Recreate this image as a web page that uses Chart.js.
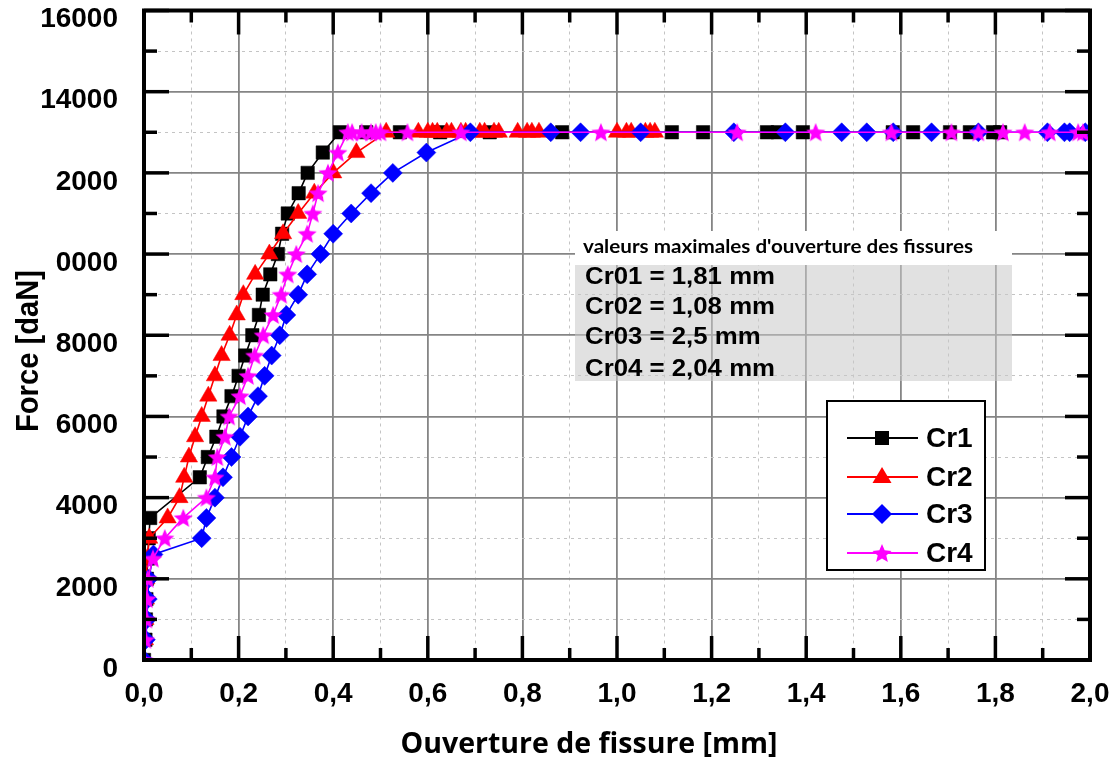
<!DOCTYPE html>
<html>
<head>
<meta charset="utf-8">
<script src="https://cdn.jsdelivr.net/npm/chart.js@4.4.1/dist/chart.umd.min.js"></script>
<style>
  html, body { margin: 0; padding: 0; background: #fff; }
  #c { display: block; }
</style>
</head>
<body>
<canvas id="c" width="1118" height="760"></canvas>
<script>
// crack opening [mm] vs force [daN]
const cr1X = [0, 0.003, 0.004, 0.005, 0.006, 0.008, 0.01, 0.013, 0.118, 0.135, 0.153, 0.168, 0.185, 0.2, 0.214, 0.229, 0.243, 0.251, 0.267, 0.283, 0.292, 0.304, 0.327, 0.346, 0.378, 0.414,
  0.47, 0.541, 0.626, 0.731, 0.884, 1.116, 1.182, 1.317, 1.34, 1.393, 1.583, 1.626, 1.704, 1.746, 1.795, 1.81];
const cr1Y = [0, 500, 1000, 1500, 2000, 2500, 3000, 3500, 4500, 5000, 5500, 6000, 6500, 7000, 7500, 8000, 8500, 9000, 9500, 10000, 10500, 11000, 11500, 12000, 12500, 13000,
  13000, 13000, 13000, 13000, 13000, 13000, 13000, 13000, 13000, 13000, 13000, 13000, 13000, 13000, 13000, 13000];

const cr2X = [0, 0.002, 0.003, 0.004, 0.005, 0.007, 0.011, 0.05, 0.075, 0.085, 0.095, 0.108, 0.122, 0.136, 0.15, 0.164, 0.181, 0.196, 0.21, 0.235, 0.265, 0.294, 0.326, 0.36, 0.4, 0.449, 0.512,
  0.58, 0.6, 0.61, 0.62, 0.64, 0.65, 0.67, 0.68, 0.71, 0.72, 0.74, 0.75, 0.79, 0.81, 0.82, 0.835, 1.0, 1.02, 1.03, 1.06, 1.07, 1.08];
const cr2Y = [0, 500, 1000, 1500, 2000, 2500, 3000, 3500, 4000, 4500, 5000, 5500, 6000, 6500, 7000, 7500, 8000, 8500, 9000, 9500, 10000, 10500, 11000, 11500, 12000, 12500, 13000,
  13000, 13000, 13000, 13000, 13000, 13000, 13000, 13000, 13000, 13000, 13000, 13000, 13000, 13000, 13000, 13000, 13000, 13000, 13000, 13000, 13000, 13000];

const cr3X = [0, 0.004, 0.006, 0.008, 0.01, 0.02, 0.122, 0.132, 0.15, 0.167, 0.185, 0.203, 0.22, 0.241, 0.255, 0.27, 0.287, 0.301, 0.326, 0.345, 0.373, 0.4, 0.438, 0.48, 0.526, 0.597, 0.69,
  0.86, 0.923, 1.05, 1.247, 1.356, 1.475, 1.528, 1.584, 1.665, 1.764, 1.91, 1.946, 1.957, 1.99, 2.5];
const cr3Y = [0, 500, 1000, 1500, 2000, 2600, 3000, 3500, 4000, 4500, 5000, 5500, 6000, 6500, 7000, 7500, 8000, 8500, 9000, 9500, 10000, 10500, 11000, 11500, 12000, 12500, 13000,
  13000, 13000, 13000, 13000, 13000, 13000, 13000, 13000, 13000, 13000, 13000, 13000, 13000, 13000, 13000];

const cr4X = [0, 0.003, 0.005, 0.006, 0.008, 0.019, 0.044, 0.083, 0.132, 0.15, 0.155, 0.171, 0.18, 0.203, 0.22, 0.234, 0.252, 0.273, 0.29, 0.304, 0.322, 0.345, 0.357, 0.368, 0.389, 0.41, 0.431,
  0.44, 0.46, 0.48, 0.49, 0.5, 0.557, 0.67, 0.966, 1.254, 1.42, 1.58, 1.707, 1.764, 1.816, 1.862, 1.915, 1.975, 1.985, 2.04];
const cr4Y = [0, 500, 1000, 1500, 2000, 2500, 3000, 3500, 4000, 4500, 5000, 5500, 6000, 6500, 7000, 7500, 8000, 8500, 9000, 9500, 10000, 10500, 11000, 11500, 12000, 12500, 13000,
  13000, 13000, 13000, 13000, 13000, 13000, 13000, 13000, 13000, 13000, 13000, 13000, 13000, 13000, 13000, 13000, 13000, 13000, 13000];

const seriesNames = ['Cr1', 'Cr2', 'Cr3', 'Cr4'];
const yTickLabels = ['0', '2000', '4000', '6000', '8000', '0000', '2000', '14000', '16000'];
const xTickLabels = ['0,0', '0,2', '0,4', '0,6', '0,8', '1,0', '1,2', '1,4', '1,6', '1,8', '2,0'];
const boxTitle = "valeurs maximales d'ouverture des fissures";
const boxLines = ['Cr01 = 1,81 mm', 'Cr02 = 1,08 mm', 'Cr03 = 2,5 mm', 'Cr04 = 2,04 mm'];
const xTitle = 'Ouverture de fissure [mm]';
const yTitle = 'Force [daN]';

const BOLD = '"Liberation Sans", Arial, sans-serif';

function starPath(ctx, cx, cy, r) {
  ctx.beginPath();
  for (let i = 0; i < 10; i++) {
    const rad = i % 2 === 0 ? r : r * 0.45;
    const a = -Math.PI / 2 + i * Math.PI / 5;
    const px = cx + rad * Math.cos(a), py = cy + rad * Math.sin(a);
    if (i === 0) ctx.moveTo(px, py); else ctx.lineTo(px, py);
  }
  ctx.closePath();
}

function makeStar(color, r) {
  const cv = document.createElement('canvas');
  cv.width = cv.height = Math.ceil(r * 2 + 2);
  const c = cv.getContext('2d');
  c.fillStyle = color;
  starPath(c, cv.width / 2, cv.height / 2 + r * 0.08, r);
  c.fill();
  return cv;
}

const toPoints = (xs, ys) => xs.map((x, i) => ({ x, y: ys[i] }));

function fitText(ctx, text, x, y, font, width) {
  ctx.font = font;
  const w = ctx.measureText(text).width;
  ctx.save();
  ctx.translate(x, y);
  ctx.scale(width / w, 1);
  ctx.fillText(text, 0, 0);
  ctx.restore();
}

const decor = {
  id: 'decor',
  afterDatasetsDraw(chart) {
    const { ctx, chartArea: a, scales: { x, y } } = chart;
    ctx.save();
    ctx.strokeStyle = '#000';
    ctx.lineWidth = 3.5;
    const seg = (x1, y1, x2, y2) => { ctx.beginPath(); ctx.moveTo(x1, y1); ctx.lineTo(x2, y2); ctx.stroke(); };
    y.ticks.forEach((t, i) => {
      const py = y.getPixelForValue(t.value);
      const len = i % 2 === 0 ? 25 : 13;
      seg(a.left, py, a.left + len, py);
      seg(a.right, py, a.right - len, py);
    });
    x.ticks.forEach((t, i) => {
      const px = x.getPixelForValue(t.value);
      const len = i % 2 === 0 ? 24 : 12;
      seg(px, a.top, px, a.top + len);
      seg(px, a.bottom, px, a.bottom - len);
    });
    ctx.lineWidth = 4;
    ctx.strokeRect(a.left, a.top, a.width, a.height);

    // info box
    ctx.fillStyle = '#ffffff';
    ctx.fillRect(575, 231, 437, 34);
    ctx.fillStyle = 'rgba(200,200,200,0.55)';
    ctx.fillRect(575, 265, 437, 116);
    ctx.fillStyle = '#000';
    ctx.textBaseline = 'alphabetic';
    ctx.textAlign = 'left';
    fitText(ctx, boxTitle, 583, 253, 'bold 18px Lato, "Open Sans", sans-serif', 390);
    ctx.font = 'bold 23px ' + BOLD;
    const k = 190 / ctx.measureText(boxLines[0]).width;
    [284, 314, 344, 376].forEach((by, i) => {
      ctx.save();
      ctx.translate(585, by);
      ctx.scale(k, 1);
      ctx.fillText(boxLines[i], 0, 0);
      ctx.restore();
    });

    // legend
    ctx.fillStyle = '#fff';
    ctx.fillRect(827, 401, 158, 169);
    ctx.lineWidth = 2;
    ctx.strokeRect(827, 401, 158, 169);
    const ly = [438, 477, 514, 553];
    chart.data.datasets.forEach((ds, i) => {
      const yy = ly[i];
      ctx.strokeStyle = ds.borderColor;
      ctx.fillStyle = ds.borderColor;
      ctx.lineWidth = 2;
      seg(847, yy, 918, yy);
      const cx = 882;
      if (i === 0) {
        ctx.fillRect(cx - 7, yy - 7, 14, 14);
      } else if (i === 1) {
        ctx.beginPath(); ctx.moveTo(cx, yy - 10); ctx.lineTo(cx + 9.5, yy + 6); ctx.lineTo(cx - 9.5, yy + 6); ctx.closePath(); ctx.fill();
      } else if (i === 2) {
        ctx.beginPath(); ctx.moveTo(cx, yy - 10); ctx.lineTo(cx + 10, yy); ctx.lineTo(cx, yy + 10); ctx.lineTo(cx - 10, yy); ctx.closePath(); ctx.fill();
      } else {
        starPath(ctx, cx, yy + 1, 10); ctx.fill();
      }
      ctx.fillStyle = '#000';
      ctx.font = 'bold 28px ' + BOLD;
      ctx.textBaseline = 'middle';
      ctx.fillText(ds.label, 926, yy + 1);
    });

    // axis titles
    ctx.fillStyle = '#000';
    ctx.textBaseline = 'alphabetic';
    ctx.textAlign = 'center';
    fitText(ctx, xTitle, 589, 753, 'bold 29px "Open Sans", Lato, sans-serif', 377);
    ctx.save();
    ctx.translate(38, 351);
    ctx.rotate(-Math.PI / 2);
    fitText(ctx, yTitle, 0, 0, 'bold 31px ' + BOLD, 162);
    ctx.restore();
    ctx.restore();
  }
};

const colors = ['#000000', '#ff0000', '#0000ff', '#ff00ff'];
const styles = ['rect', 'triangle', 'rectRot', makeStar('#ff00ff', 10)];
const radii = [9.5, 10, 9.5, 10];
const allX = [cr1X, cr2X, cr3X, cr4X];
const allY = [cr1Y, cr2Y, cr3Y, cr4Y];

const datasets = seriesNames.map((name, i) => ({
  label: name,
  data: toPoints(allX[i], allY[i]),
  showLine: true,
  borderColor: colors[i],
  backgroundColor: colors[i],
  borderWidth: 1.6,
  pointStyle: styles[i],
  pointRadius: radii[i],
  pointBorderWidth: 0.5,
  order: 4 - i,
}));

const gridColor = (ctx) => (ctx.index % 2 === 0 ? '#858585' : '#c4c4c4');
const gridWidth = (ctx) => (ctx.index % 2 === 0 ? 1.8 : 1);
const gridDash = (ctx) => (ctx.type === 'tick' && ctx.index % 2 === 1 ? [3, 4] : []);

new Chart(document.getElementById('c'), {
  type: 'scatter',
  data: { datasets },
  options: {
    responsive: false,
    animation: false,
    devicePixelRatio: 1,
    events: [],
    layout: { padding: { top: 8, right: 28, bottom: 0, left: 0 } },
    plugins: { legend: { display: false }, tooltip: { enabled: false } },
    scales: {
      x: {
        type: 'linear',
        min: 0,
        max: 2,
        afterFit: (s) => { s.height = 100; s.paddingLeft = 0; s.paddingRight = 0; },
        ticks: {
          stepSize: 0.1,
          autoSkip: false,
          maxRotation: 0,
          padding: 17,
          color: '#000',
          font: { family: BOLD, size: 28, weight: 'bold' },
          callback: (v, i) => (i % 2 === 0 ? xTickLabels[i / 2] : ''),
        },
        grid: { color: gridColor, lineWidth: gridWidth, drawTicks: false },
        border: { display: false, dash: gridDash },
      },
      y: {
        min: 0,
        max: 16000,
        afterFit: (s) => { s.width = 144; s.paddingTop = 0; s.paddingBottom = 0; },
        ticks: {
          stepSize: 1000,
          autoSkip: false,
          padding: 26,
          labelOffset: 9,
          color: '#000',
          font: { family: BOLD, size: 28, weight: 'bold' },
          callback: (v) => (v % 2000 === 0 ? yTickLabels[v / 2000] : ''),
        },
        grid: { color: gridColor, lineWidth: gridWidth, drawTicks: false },
        border: { display: false, dash: gridDash },
      },
    },
  },
  plugins: [decor],
});
</script>
</body>
</html>
